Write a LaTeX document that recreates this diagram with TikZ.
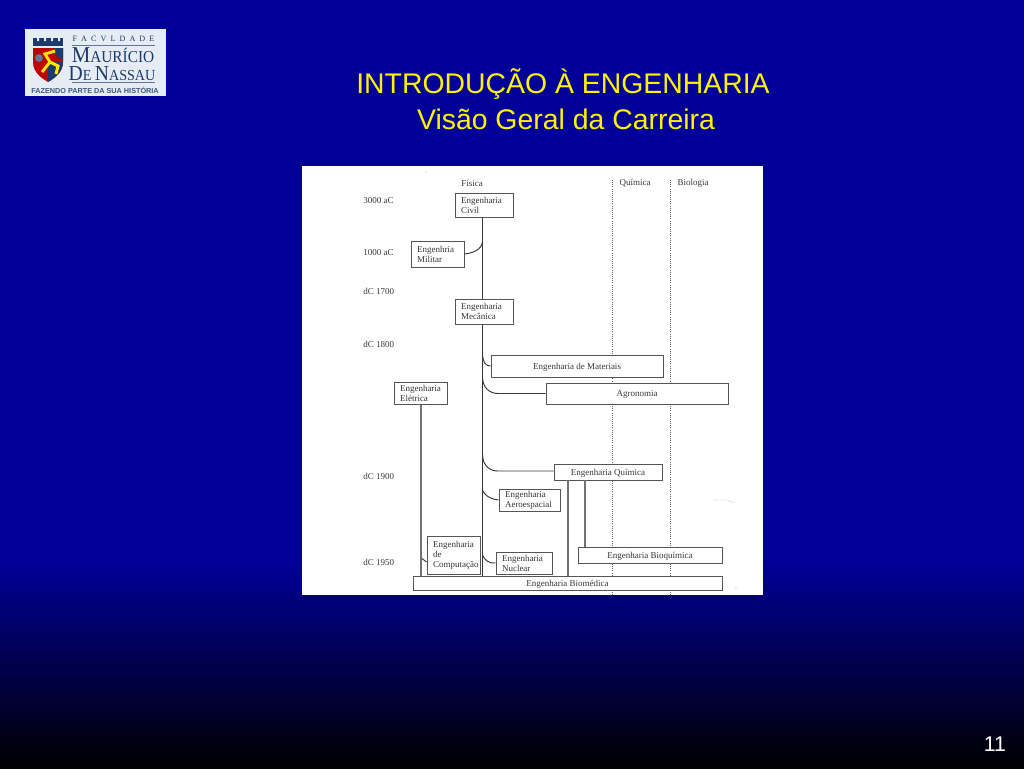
\documentclass[tikz,border=0pt]{standalone}
\usepackage{fontspec}
\setmainfont{Liberation Serif}
\newfontfamily\arialfont{Liberation Sans}
\newfontfamily\logofont[FakeStretch=0.92]{Liberation Serif}
\definecolor{bgblue}{RGB}{0,0,153}
\definecolor{inkgray}{RGB}{55,55,55}
\definecolor{logonavy}{RGB}{28,58,108}
\definecolor{logopanel}{RGB}{230,236,243}
\tikzset{
	box/.style n args={2}{draw=inkgray!85,fill=white,line width=0.75pt,inner sep=0pt,text=inkgray,
		minimum width=#1*0.75pt,minimum height=#2*0.75pt,font=\fontsize{6.75}{7.5}\selectfont},
	sbox/.style n args={2}{box={#1}{#2},text depth=0pt},
	lbox/.style n args={2}{box={#1}{#2},text width=(#1-12)*0.75pt,align=left},
	era/.style={anchor=west,inner sep=0pt,text=inkgray,font=\fontsize{6.75}{7.5}\selectfont},
	area/.style={inner sep=0pt,text=inkgray,font=\fontsize{6.75}{7.5}\selectfont},
	link/.style={draw=inkgray,line width=0.7pt},
	title/.style={inner sep=0pt,text=yellow,font=\arialfont\fontsize{21.3}{24}\selectfont}
}
\begin{document}
\begin{tikzpicture}[x=0.75pt,y=-0.75pt]
	\useasboundingbox (0,0) rectangle (1024,768);
	\fill[bgblue] (0,0) rectangle (1024,560);
	\shade[top color=bgblue,bottom color=black] (0,560) rectangle (1024,768);
	\node[title] (titulo) at (563,84.5) {INTRODUÇÃO À ENGENHARIA};
	\node[title] (subtitulo) at (566,119.5) {Visão Geral da Carreira};
	\node[inner sep=0pt,text=white,font=\arialfont\fontsize{16}{18}\selectfont] (pagina) at (995,744) {11};
	\fill[logopanel] (25,29) rectangle (166,96);
	\fill[logonavy] (33,38) rectangle (63,46);
	\fill[logopanel] (37,38) rectangle (39,41) (44,38) rectangle (46,41) (51,38) rectangle (53,41) (58,38) rectangle (60,41);
	\fill[red!75!black] (33,48) -- (63,48) -- (63,62) .. controls (63,72) and (55,78) .. (48,82) .. controls (41,78) and (33,72) .. (33,62) -- cycle;
	\fill[logonavy] (48,62) -- (63,62) .. controls (63,72) and (55,78) .. (48,82) -- cycle;
	\fill[logonavy] (54,48) -- (63,48) -- (63,60) -- (56,56) -- cycle;
	\fill[logonavy!70] (39,58) circle (4);
	\draw[yellow!90!orange,line width=2.2pt] (42,72) -- (50,62) -- (45,54) -- (55,51) (50,62) -- (58,66) -- (56,74);
	\node[inner sep=0pt,text=logonavy,font=\fontsize{6.1}{7}\selectfont] (facvldade) at (113.5,39) {F\,\,\,A\,\,\,C\,\,\,V\,\,\,L\,\,\,D\,\,\,A\,\,\,D\,\,\,E};
	\draw[logonavy!70,line width=0.6pt] (72,45) -- (155,45);
	\node[inner sep=0pt,text=logonavy,font=\logofont\fontsize{12.5}{13}\selectfont,anchor=base] (mauricio) at (113,62.5) {{\fontsize{17}{17}\selectfont M}AURÍCIO};
	\node[inner sep=0pt,text=logonavy,font=\logofont\fontsize{11.5}{12}\selectfont,anchor=base] (nassau) at (112,80) {{\fontsize{16}{16}\selectfont D}E {\fontsize{16}{16}\selectfont N}ASSAU};
	\draw[logonavy!70,line width=0.6pt] (72,82) -- (155,82);
	\node[inner sep=0pt,text=logonavy!85,font=\arialfont\bfseries\fontsize{5.45}{6}\selectfont] (lema) at (95,90) {FAZENDO PARTE DA SUA HISTÓRIA};
	\fill[white] (302,166) rectangle (763,595);
	\coordinate (trunk) at (482.5,300);
	\coordinate (q1) at (612.5,180);
	\coordinate (q2) at (612.5,594);
	\coordinate (b1) at (670,180);
	\coordinate (b2) at (670,594);
	\draw[inkgray!80,densely dotted,line width=0.6pt] (q1)--(q2) (b1)--(b2);
	\draw[gray!60,densely dotted,line width=0.5pt] (714,500)--(726,500)--(735,503);
	\fill[gray!60] (426,172) circle (0.7) (736,588) circle (0.7);
	\node[area] (fisica) at (472,183.5) {Física};
	\node[area] (quimica) at (635,183.5) {Química};
	\node[area] (biologia) at (693,183.5) {Biologia};
	\node[era] (e3000) at (363,201) {3000 aC};
	\node[era] (e1000) at (363,253) {1000 aC};
	\node[era] (e1700) at (363,291.5) {dC 1700};
	\node[era] (e1800) at (363,344) {dC 1800};
	\node[era] (e1900) at (363,476.5) {dC 1900};
	\node[era] (e1950) at (363,562.5) {dC 1950};
	\node[lbox={58}{24}] (civil) at (484,205) {Engenharia\\Civil};
	\node[lbox={53}{26}] (militar) at (437.5,254) {Engenhria\\Militar};
	\node[lbox={58}{25}] (mecanica) at (484,311.5) {Engenharia\\Mecânica};
	\node[sbox={172}{22}] (materiais) at (577,366) {Engenharia de Materiais};
	\node[sbox={182}{21}] (agronomia) at (637,393.5) {Agronomia};
	\node[lbox={53}{22}] (eletrica) at (420.5,393) {Engenharia\\Elétrica};
	\node[sbox={108}{16}] (eq) at (608,472) {Engenharia Química};
	\node[lbox={61}{22}] (aero) at (529.5,500) {Engenharia\\Aeroespacial};
	\node[lbox={53}{38}] (computacao) at (453.5,555) {Engenharia\\de\\Computação};
	\node[lbox={56}{22}] (nuclear) at (524,563) {Engenharia\\Nuclear};
	\node[sbox={144}{16}] (bioq) at (650,555) {Engenharia Bioquímica};
	\node[sbox={309}{14}] (biomed) at (567.5,583) {Engenharia Biomédica};
	\draw[link] (civil.south -| trunk)--(mecanica.north -| trunk);
	\draw[link] (mecanica.south -| trunk)--(biomed.north -| trunk);
	\coordinate (jm) at (482.5,242);
	\coordinate (jmat) at (482.5,354);
	\coordinate (jag) at (482.5,378);
	\coordinate (jq) at (482.5,455);
	\coordinate (ja) at (482.5,490);
	\coordinate (jn) at (482.5,555);
	\coordinate (el) at (421,558);
	\coordinate (jeq) at (498,471);
	\draw[link] (jm) .. controls (481,250) and (473,253) .. (militar.east);
	\draw[link] (jmat) .. controls (483,362) and (485,366) .. (materiais.west);
	\draw[link] (jag) .. controls (483,388) and (490,393.5) .. (498,393.5)--(agronomia.west);
	\draw[link] (jq) .. controls (483,466) and (490,471) .. (jeq)--(jeq -| eq.west);
	\draw[link] (ja) .. controls (484,495) and (490,499) .. (aero.west);
	\draw[link] (jn) .. controls (484,560) and (490,564) .. (nuclear.west);
	\draw[link] (el) .. controls (423,559) and (425,561) .. (computacao.west |- 0,562);
	\draw[link,line width=1.1pt,draw=inkgray!70] (eletrica.south -| el)--(biomed.north -| el);
	\coordinate (eq1) at (568,480);
	\coordinate (eq2) at (585,480);
	\draw[link,line width=1.1pt,draw=inkgray!70] (eq1)--(biomed.north -| eq1);
	\draw[link,line width=1.1pt,draw=inkgray!70] (eq2)--(bioq.north -| eq2);
\end{tikzpicture}
\end{document}
